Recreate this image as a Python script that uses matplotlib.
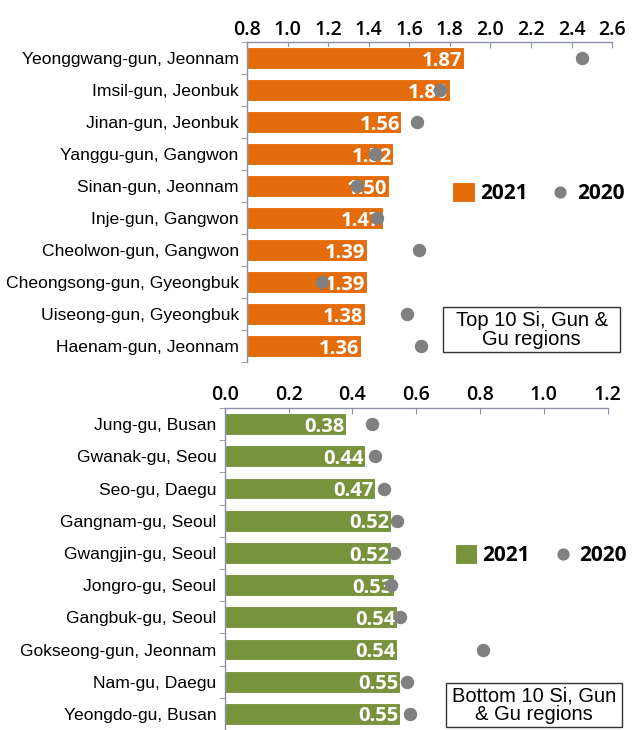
import matplotlib.pyplot as plt
import matplotlib.patches as mpatches
import numpy as np

top_regions = ["Yeonggwang-gun, Jeonnam", "Imsil-gun, Jeonbuk", "Jinan-gun, Jeonbuk",
               "Yanggu-gun, Gangwon", "Sinan-gun, Jeonnam", "Inje-gun, Gangwon",
               "Cheolwon-gun, Gangwon", "Cheongsong-gun, Gyeongbuk",
               "Uiseong-gun, Gyeongbuk", "Haenam-gun, Jeonnam"]
top_2021 = [1.87, 1.80, 1.56, 1.52, 1.50, 1.47, 1.39, 1.39, 1.38, 1.36]
top_2020 = [2.45, 1.75, 1.64, 1.43, 1.34, 1.44, 1.65, 1.17, 1.59, 1.66]

bottom_regions = ["Jung-gu, Busan", "Gwanak-gu, Seou", "Seo-gu, Daegu",
                  "Gangnam-gu, Seoul", "Gwangjin-gu, Seoul", "Jongro-gu, Seoul",
                  "Gangbuk-gu, Seoul", "Gokseong-gun, Jeonnam", "Nam-gu, Daegu",
                  "Yeongdo-gu, Busan"]
bottom_2021 = [0.38, 0.44, 0.47, 0.52, 0.52, 0.53, 0.54, 0.54, 0.55, 0.55]
bottom_2020 = [0.46, 0.47, 0.50, 0.54, 0.53, 0.52, 0.55, 0.81, 0.57, 0.58]

top_ticks = np.arange(0.8, 2.61, 0.2)
bottom_ticks = np.arange(0.0, 1.21, 0.2)

ORANGE = "#E46C0A"
GREEN = "#77933C"
GREY = "#808080"
SPINE = "#8C8FA8"

fig = plt.figure(figsize=(6.35, 7.3), dpi=100)


def panel(rect, regions, v21, v20, color, xlim, ticks, box_text, leg_xy, box):
    ax = fig.add_axes(rect)
    idx = np.arange(len(regions))
    left = xlim[0]
    bars = ax.barh(idx, np.array(v21) - left, left=left, height=0.68, color=color,
                   edgecolor="white", linewidth=0.8, zorder=2)
    dots = ax.scatter(v20, idx, s=75, color=GREY, zorder=5)
    for i, v in zip(idx, v21):
        ax.text(v - 0.004 * (xlim[1] - xlim[0]), i + 0.08, "%.2f" % v, ha="right",
                va="center", color="white", fontsize=14.5, fontweight="bold",
                family="Open Sans", zorder=4)
    ax.set_xlim(*xlim)
    ax.set_ylim(len(regions) - 0.5, -0.5)
    ax.xaxis.tick_top()
    ax.set_xticks(ticks)
    ax.set_xticklabels(["%.1f" % t for t in ticks], fontsize=14,
                       fontweight="semibold", family="Open Sans")
    ax.tick_params(axis="x", direction="in", length=4, color=SPINE, pad=2)
    ax.set_yticks(idx)
    ax.set_yticklabels(regions, fontsize=12.6, family="Liberation Sans")
    ax.tick_params(axis="y", length=0, pad=6)
    ax.set_yticks(np.arange(-0.5, len(regions), 1), minor=True)
    ax.tick_params(axis="y", which="minor", length=4, color=SPINE)
    for s in ["right", "bottom"]:
        ax.spines[s].set_visible(False)
    for s in ["top", "left"]:
        ax.spines[s].set_color(SPINE)
        ax.spines[s].set_linewidth(1.0)
    ax.legend([bars, dots], ["2021", "2020"], loc="center left",
              bbox_to_anchor=leg_xy, ncol=2, frameon=False, borderpad=0,
              borderaxespad=0,
              prop={"family": "Open Sans", "weight": "bold", "size": 15},
              handlelength=1.1, handleheight=1.05, handletextpad=0.25,
              columnspacing=1.0, markerscale=0.9)
    x0, x1, y0, y1 = box
    ax.add_patch(mpatches.Rectangle((x0, y0), x1 - x0, y1 - y0, transform=ax.transAxes,
                                    facecolor="white", edgecolor="#333333",
                                    linewidth=1.0, clip_on=False, zorder=6))
    ax.text((x0 + x1) / 2, (y0 + y1) / 2, box_text, transform=ax.transAxes,
            ha="center", va="center", fontsize=14.5, family="Liberation Sans",
            linespacing=1.0, zorder=7)
    return ax


panel([0.389, 0.504, 0.575, 0.438], top_regions, top_2021, top_2020, ORANGE,
      (0.8, 2.6), top_ticks, "Top 10 Si, Gun &\nGu regions", (0.562, 0.528),
      (0.537, 1.022, 0.031, 0.172))
panel([0.354, 0.0, 0.603, 0.441], bottom_regions, bottom_2021, bottom_2020, GREEN,
      (0.0, 1.2), bottom_ticks, "Bottom 10 Si, Gun\n& Gu regions", (0.60, 0.543),
      (0.577, 1.037, 0.009, 0.146))

fig.savefig("out.png", dpi=100)
